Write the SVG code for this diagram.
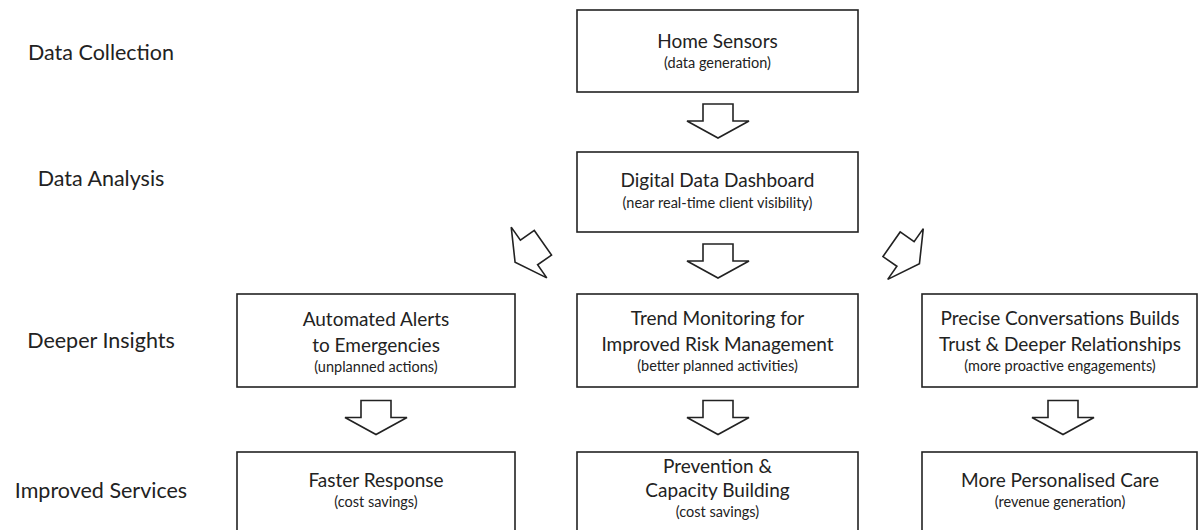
<svg xmlns="http://www.w3.org/2000/svg" width="1198" height="530" viewBox="0 0 1198 530">
<style>
.box{fill:#fff;stroke:#222;stroke-width:1.6}
.arr{fill:#fff;stroke:#222;stroke-width:1.6;stroke-linejoin:miter}
text{font-family:Lato,"Open Sans","Liberation Sans",sans-serif;fill:#222;text-anchor:middle}
.lbl{font-size:21.5px}
.t{font-size:19px}
.s{font-size:14.5px}
</style>
<defs>
<polygon id="arrow" points="-15,-17 15,-17 15,0 31,0 0,17 -31,0 -15,0"/>
</defs>
<rect width="1198" height="530" fill="#fff"/>
<g id="labels">
<text class="lbl" x="101" y="60">Data Collection</text>
<text class="lbl" x="101" y="186">Data Analysis</text>
<text class="lbl" x="101" y="348">Deeper Insights</text>
<text class="lbl" x="101" y="498">Improved Services</text>
</g>
<g id="connectors">
<use href="#arrow" class="arr" transform="translate(718,121)"/>
<use href="#arrow" class="arr" transform="translate(718,261)"/>
<use href="#arrow" class="arr" transform="translate(529,252.5) rotate(55)"/>
<use href="#arrow" class="arr" transform="translate(905.5,254) rotate(-55)"/>
<use href="#arrow" class="arr" transform="translate(376,417.5)"/>
<use href="#arrow" class="arr" transform="translate(718,417.5)"/>
<use href="#arrow" class="arr" transform="translate(1063,417.5)"/>
</g>
<g id="home-sensors">
<rect class="box" x="577" y="10" width="281" height="82"/>
<text class="t" x="717.5" y="48">Home Sensors</text>
<text class="s" x="717.5" y="68">(data generation)</text>
</g>
<g id="dashboard">
<rect class="box" x="577" y="152" width="281" height="80"/>
<text class="t" x="717.5" y="187">Digital Data Dashboard</text>
<text class="s" x="717.5" y="208">(near real-time client visibility)</text>
</g>
<g id="alerts">
<rect class="box" x="237" y="294" width="278" height="93"/>
<text class="t" x="376" y="326">Automated Alerts</text>
<text class="t" x="376" y="352">to Emergencies</text>
<text class="s" x="376" y="372">(unplanned actions)</text>
</g>
<g id="trend">
<rect class="box" x="577" y="294" width="281" height="93"/>
<text class="t" x="717.5" y="325">Trend Monitoring for</text>
<text class="t" x="717.5" y="351">Improved Risk Management</text>
<text class="s" x="717.5" y="371">(better planned activities)</text>
</g>
<g id="conversations">
<rect class="box" x="922" y="294" width="275" height="93"/>
<text class="t" x="1060" y="325">Precise Conversations Builds</text>
<text class="t" x="1060" y="351">Trust &amp; Deeper Relationships</text>
<text class="s" x="1060" y="371">(more proactive engagements)</text>
</g>
<g id="faster">
<rect class="box" x="237" y="452" width="278" height="95"/>
<text class="t" x="376" y="487">Faster Response</text>
<text class="s" x="376" y="507">(cost savings)</text>
</g>
<g id="prevention">
<rect class="box" x="577" y="452" width="281" height="95"/>
<text class="t" x="717.5" y="473">Prevention &amp;</text>
<text class="t" x="717.5" y="497">Capacity Building</text>
<text class="s" x="717.5" y="517">(cost savings)</text>
</g>
<g id="personalised">
<rect class="box" x="922" y="452" width="275" height="95"/>
<text class="t" x="1060" y="487">More Personalised Care</text>
<text class="s" x="1060" y="507">(revenue generation)</text>
</g>
</svg>
